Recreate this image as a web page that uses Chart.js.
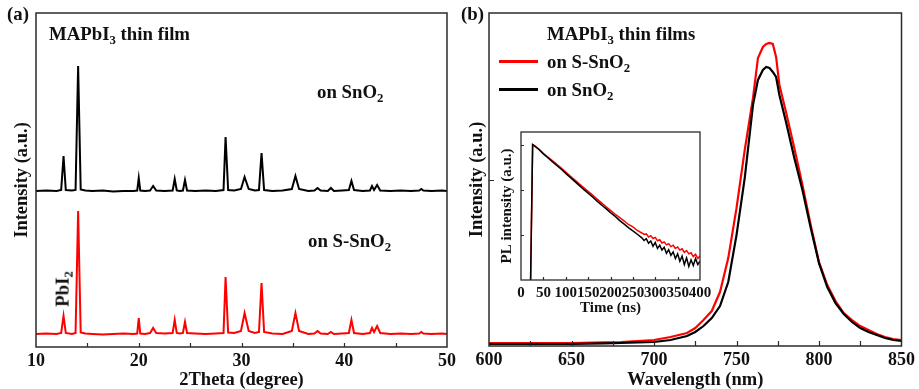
<!DOCTYPE html>
<html>
<head>
<meta charset="utf-8">
<script src="https://cdn.jsdelivr.net/npm/chart.js@4.4.0/dist/chart.umd.min.js"></script>
<style>
  html, body { margin: 0; padding: 0; background: #fff; }
  #fig { position: relative; width: 919px; height: 389px; overflow: hidden;
         font-family: "Liberation Serif", "Times New Roman", serif; font-weight: bold; color: #111; }
  canvas { position: absolute; }
  .lbl { position: absolute; white-space: nowrap; line-height: 1; font-size: 18.8px; }
  .lbl sub { font-size: 0.68em; vertical-align: -0.3em; line-height: 0; }
  .swatch { position: absolute; height: 3px; }
  .rot { transform: translate(-50%, -50%) rotate(-90deg); }
</style>
</head>
<body>
<div id="fig">
  <canvas id="xrd" width="460" height="389" style="left:0;top:0"></canvas>
  <canvas id="pl" width="459" height="389" style="left:460px;top:0"></canvas>
  <canvas id="trpl" width="222" height="190" style="left:496px;top:126px"></canvas>

  <div class="lbl" style="left:7px;top:5px">(a)</div>
  <div class="lbl" style="left:49px;top:25px">MAPbI<sub>3</sub> thin film</div>
  <div class="lbl" style="left:317px;top:83px">on SnO<sub>2</sub></div>
  <div class="lbl" style="left:308px;top:232px">on S-SnO<sub>2</sub></div>
  <div class="lbl rot" style="left:63px;top:289px">PbI<sub>2</sub></div>

  <div class="lbl" style="left:461px;top:5px">(b)</div>
  <div class="lbl" style="left:547px;top:25px">MAPbI<sub>3</sub> thin films</div>
  <div class="swatch" id="sw-s" style="left:499px;top:60px;width:39px"></div>
  <div class="lbl" style="left:547px;top:53px">on S-SnO<sub>2</sub></div>
  <div class="swatch" id="sw-n" style="left:499px;top:88px;width:39px"></div>
  <div class="lbl" style="left:547px;top:81px">on SnO<sub>2</sub></div>
</div>
<script>
// ── data ────────────────────────────────────────────────────────────────────
const RED = "#ff0000";
const BLACK = "#000000";

// (a) XRD, two patterns stacked (arbitrary counts)
const xrdTheta = [10, 11, 12, 12.45, 12.68, 12.9, 13.5, 13.85, 14.1, 14.35, 14.8, 15.5, 16.5, 17.5, 18.5, 19.5,
  19.85, 20.0, 20.15, 20.6, 21.1, 21.4, 21.7, 22.5, 23.3, 23.5, 23.7, 24.0, 24.3, 24.5, 24.7, 25.5, 26.5, 27.5,
  28.25, 28.45, 28.7, 29.3, 29.95, 30.3, 30.7, 31.3, 31.7, 31.95, 32.2, 33, 34, 34.9, 35.25, 35.6, 36.5, 37.1,
  37.4, 37.7, 38.4, 38.7, 39.0, 39.8, 40.45, 40.7, 40.95, 41.8, 42.5, 42.7, 42.9, 43.2, 43.5, 44.5, 45.5, 46.5,
  47.3, 47.5, 47.7, 48.5, 49.5, 50];
const xrdOnSnO2 = [156, 156.5, 156, 157, 191, 157, 156.5, 157, 281, 157.5, 156.5, 156, 156.5, 155.5, 156, 156,
  156.5, 169, 156.5, 156, 156.5, 161, 156.5, 156, 156.5, 168, 156.5, 156, 156.5, 167, 156.5, 156, 156.5, 156,
  157, 210, 157, 156.5, 158, 170, 158, 156.5, 157, 194, 157, 156, 156.5, 158, 171, 158, 156, 156.5,
  159, 156.5, 156, 159, 156, 156.5, 157, 166, 157, 156, 156.5, 161, 157, 162, 156.5, 156, 156.5, 156,
  156.5, 158, 156.5, 156, 156.5, 156];
const xrdOnSSnO2 = [13, 13.5, 13, 14, 31, 14, 13, 14, 136, 14.5, 13.5, 13, 12.5, 13, 13.5, 13,
  13.5, 29, 13.5, 13, 14, 19, 14, 13.5, 14, 27, 14, 13.5, 14, 25, 14, 13.5, 13, 13.5,
  14, 70, 14.5, 14, 16, 34, 16, 14, 15, 64, 15, 13.5, 13, 16, 34, 16, 13, 13.5,
  16, 13.5, 13, 15, 13, 13.5, 14, 27, 14, 13, 14, 19, 15, 21, 14, 13, 13.5, 13,
  13.5, 15, 13.5, 13, 13.5, 13];
const xrdTickLabels = [10, 20, 30, 40, 50];

// (b) steady-state PL (normalised to the frame height)
const plWavelength = [600, 625, 650, 670, 680, 690, 700, 710, 720, 725, 730, 735, 740, 745, 750, 755, 760, 763,
  766, 768, 770, 772, 774, 776, 780, 785, 790, 795, 800, 805, 810, 815, 820, 825, 830, 835, 840, 845, 850];
const plOnSSnO2 = [0.009, 0.009, 0.009, 0.011, 0.012, 0.015, 0.018, 0.027, 0.039, 0.054, 0.078, 0.105, 0.162,
  0.264, 0.414, 0.589, 0.745, 0.865, 0.898, 0.907, 0.910, 0.907, 0.868, 0.784, 0.703, 0.595, 0.483, 0.363,
  0.252, 0.183, 0.135, 0.099, 0.078, 0.060, 0.048, 0.036, 0.027, 0.021, 0.018];
const plOnSnO2 = [0.006, 0.006, 0.006, 0.008, 0.009, 0.011, 0.012, 0.018, 0.030, 0.042, 0.060, 0.084, 0.120,
  0.192, 0.333, 0.505, 0.724, 0.799, 0.829, 0.838, 0.835, 0.823, 0.808, 0.754, 0.673, 0.565, 0.468, 0.354,
  0.249, 0.177, 0.129, 0.096, 0.072, 0.054, 0.042, 0.033, 0.024, 0.018, 0.015];
const plTickLabels = [600, 650, 700, 750, 800, 850];

// inset: TRPL decay (log counts)
const trplTime = [15, 21, 26, 30, 40, 50, 60, 70, 80, 90, 100, 110, 120, 130, 140, 150, 160, 170, 180, 190, 200,
  210, 220, 230, 240, 250, 260, 270, 275, 280, 285, 290, 295, 300, 305, 310, 315, 320, 325, 330, 335, 340, 345,
  350, 355, 360, 365, 370, 375, 380, 385, 390, 395, 400];
const trplOnSSnO2 = [0.5, 0.5, 1000, 950, 800, 640, 530, 440, 365, 300, 245, 200, 165, 135, 112, 92, 76, 62, 51,
  42, 35, 29, 24.5, 20.5, 17, 15, 12.5, 11, 10.2, 10.5, 9.0, 9.6, 8.3, 8.8, 7.4, 7.8, 6.6, 7.0, 6.0, 6.4, 5.5,
  5.9, 5.0, 5.4, 4.6, 4.9, 4.1, 4.5, 3.8, 4.0, 3.3, 3.7, 3.0, 3.4];
const trplOnSnO2 = [0.5, 0.5, 1000, 940, 780, 620, 510, 420, 345, 285, 230, 188, 153, 125, 102, 84, 69, 56, 46,
  38, 31, 26, 21, 17.5, 14.5, 12.3, 10.3, 8.6, 7.5, 8.2, 6.5, 7.3, 5.6, 6.8, 5.0, 5.9, 4.6, 5.3, 3.9, 4.7, 3.5,
  4.2, 3.0, 3.8, 2.6, 3.4, 2.2, 3.1, 2.0, 2.8, 2.1, 3.0, 2.2, 2.6];
const trplDecadeTicks = [10, 100, 1000];

// ── helpers ──────────────────────────────────────────────────────────────────
Chart.defaults.font.family = '"Liberation Serif", "Times New Roman", serif';
Chart.defaults.font.weight = "bold";
Chart.defaults.color = "#111";

const pts = (xs, ys) => xs.map((x, i) => ({ x, y: ys[i] }));

function lineSet(label, xs, ys, color, width) {
  return { label, data: pts(xs, ys), borderColor: color, borderWidth: width,
           pointRadius: 0, tension: 0, fill: false };
}

// frame around the plot area + inward tick marks
function framePlugin({ xLen = 5, yLen = 5, yTicks = false, lw = 1.5 }) {
  return {
    id: "frame",
    afterDatasetsDraw(chart) {
      const { ctx, chartArea: a, scales } = chart;
      ctx.save();
      ctx.strokeStyle = "#2b2b2b";
      ctx.lineWidth = lw;
      ctx.strokeRect(a.left, a.top, a.right - a.left, a.bottom - a.top);
      ctx.beginPath();
      scales.x.ticks.forEach(t => {
        const px = Math.round(scales.x.getPixelForValue(t.value)) + 0.5;
        if (px <= a.left + 1 || px >= a.right - 1) return;
        ctx.moveTo(px, a.bottom); ctx.lineTo(px, a.bottom - xLen);
      });
      if (yTicks) scales.y.ticks.forEach(t => {
        const py = Math.round(scales.y.getPixelForValue(t.value)) + 0.5;
        ctx.moveTo(a.left, py); ctx.lineTo(a.left + yLen, py);
      });
      ctx.lineWidth = 1.2;
      ctx.stroke();
      ctx.restore();
    }
  };
}

const noGrid = { display: false, drawTicks: false };
const baseOpts = { responsive: false, animation: false, events: [],
                   plugins: { legend: { display: false }, tooltip: { enabled: false } } };

// ── (a) XRD ──────────────────────────────────────────────────────────────────
new Chart(document.getElementById("xrd"), {
  type: "line",
  data: { datasets: [
    lineSet("on SnO2", xrdTheta, xrdOnSnO2, BLACK, 2),
    lineSet("on S-SnO2", xrdTheta, xrdOnSSnO2, RED, 2),
  ] },
  options: { ...baseOpts,
    layout: { padding: { left: 0, top: 13, right: 9, bottom: 0 } },
    scales: {
      x: { type: "linear", min: 10, max: 50, grid: noGrid, border: { display: false },
           ticks: { stepSize: 5, autoSkip: false, maxRotation: 0, padding: 4, font: { size: 18 },
                    callback: v => xrdTickLabels.includes(v) ? v : "" },
           title: { display: true, text: "2Theta (degree)", font: { size: 18.5, lineHeight: 1 }, padding: 0 },
           afterFit: s => { s.height = 42; } },
      y: { min: 0, max: 334, grid: noGrid, border: { display: false }, ticks: { display: false },
           title: { display: true, text: "Intensity (a.u.)", font: { size: 18.5, lineHeight: 1 },
                    padding: { top: 13, bottom: 0 } },
           afterFit: s => { s.width = 36; } },
    } },
  plugins: [framePlugin({ xLen: 4 })],
});

// ── (b) PL ───────────────────────────────────────────────────────────────────
new Chart(document.getElementById("pl"), {
  type: "line",
  data: { datasets: [
    lineSet("on SnO2", plWavelength, plOnSnO2, BLACK, 2.2),
    lineSet("on S-SnO2", plWavelength, plOnSSnO2, RED, 2.2),
  ] },
  options: { ...baseOpts,
    layout: { padding: { left: 0, top: 13, right: 17, bottom: 0 } },
    scales: {
      x: { type: "linear", min: 600, max: 850, grid: noGrid, border: { display: false },
           ticks: { stepSize: 25, autoSkip: false, maxRotation: 0, padding: 4, font: { size: 18 },
                    callback: v => plTickLabels.includes(v) ? v : "" },
           title: { display: true, text: "Wavelength (nm)", font: { size: 18.5, lineHeight: 1 }, padding: 0 },
           afterFit: s => { s.height = 43; } },
      y: { min: 0, max: 1, grid: noGrid, border: { display: false }, ticks: { display: false },
           afterBuildTicks: s => { s.ticks = [{ value: 0.5 }]; },
           title: { display: true, text: "Intensity (a.u.)", font: { size: 18.5, lineHeight: 1 },
                    padding: { top: 8, bottom: 0 } },
           afterFit: s => { s.width = 29; } },
    } },
  plugins: [framePlugin({ xLen: 5, yTicks: true })],
});

// ── inset TRPL ───────────────────────────────────────────────────────────────
new Chart(document.getElementById("trpl"), {
  type: "line",
  data: { datasets: [
    lineSet("on SnO2", trplTime, trplOnSnO2, BLACK, 1.5),
    lineSet("on S-SnO2", trplTime, trplOnSSnO2, RED, 1.5),
  ] },
  options: { ...baseOpts,
    layout: { padding: { left: 0, top: 6, right: 18, bottom: 0 } },
    scales: {
      x: { type: "linear", min: 0, max: 400, grid: noGrid, border: { display: false },
           ticks: { stepSize: 50, autoSkip: false, maxRotation: 0, padding: 4, font: { size: 15 } },
           title: { display: true, text: "Time (ns)", font: { size: 15, lineHeight: 1 }, padding: { top: 0, bottom: 0.5 } },
           afterFit: s => { s.height = 36; } },
      y: { type: "logarithmic", min: 1, max: 1900, grid: noGrid, border: { display: false },
           ticks: { display: false },
           afterBuildTicks: s => { s.ticks = trplDecadeTicks.map(v => ({ value: v })); },
           title: { display: true, text: "PL intensity (a.u.)", font: { size: 15, lineHeight: 1 },
                    padding: { top: 3.5, bottom: 0 } },
           afterFit: s => { s.width = 25; } },
    } },
  plugins: [framePlugin({ xLen: 3, yLen: 3, yTicks: true, lw: 1.3 })],
});

document.getElementById("sw-s").style.background = RED;
document.getElementById("sw-n").style.background = BLACK;
</script>
</body>
</html>
